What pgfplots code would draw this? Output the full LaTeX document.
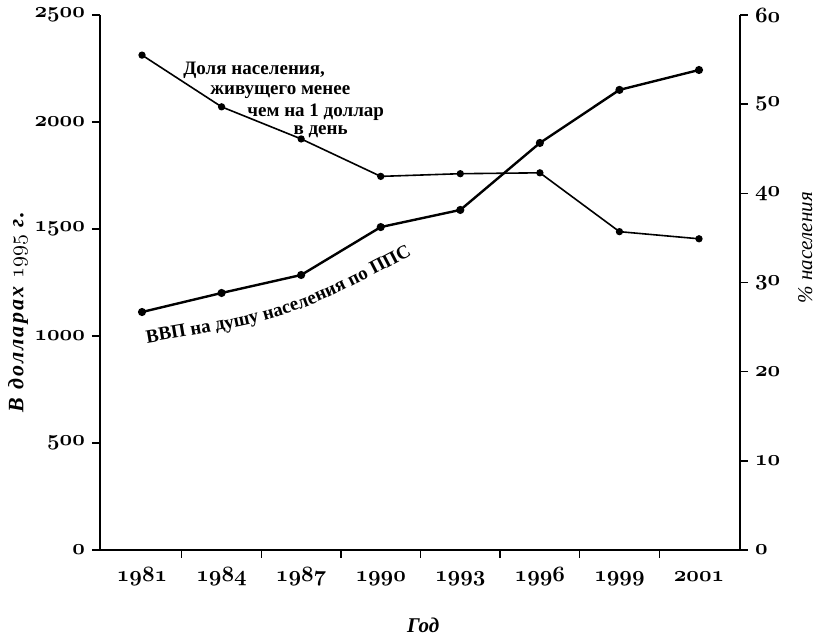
\documentclass[border=0pt]{standalone}
\usepackage{fontspec}
\setmainfont{Liberation Serif}
\usepackage{pgfplots}
\pgfplotsset{compat=1.18}
\usetikzlibrary{decorations.text}
% old-style figures from the math italic font
\newcommand{\osf}[1]{{\boldmath$\mathnormal{#1}$}}

\begin{document}
\begin{tikzpicture}
\useasboundingbox (-50pt,-42.5pt) rectangle (358pt,275pt);
\begin{axis}[
    scale only axis,
    width=320pt, height=267.5pt,
    xmin=-0.528, xmax=7.515,
    ymin=0, ymax=2500,
    axis x line*=bottom, axis y line*=left,
    axis line style={-, line width=0.8pt},
    tick align=outside,
    major tick length=4pt,
    tick style={line width=0.7pt, black},
    xtick={0.5,1.5,...,6.5}, xticklabels={},
    extra x ticks={0,1,2,3,4,5,6,7},
    extra x tick labels={\osf{1981},\osf{1984},\osf{1987},\osf{1990},\osf{1993},\osf{1996},\osf{1999},\osf{2001}},
    extra x tick style={major tick length=0pt},
    xticklabel style={yshift=-5pt, text height=7pt, text depth=2.5pt},
    ytick={0,500,...,2500},
    yticklabels={\osf{0},\osf{500},\osf{1000},\osf{1500},\osf{2000},\osf{2500}},
    tick label style={font=\fontsize{10.5}{12}\selectfont},
    xlabel={\bfseries\itshape Год},
    xlabel style={at={(rel axis cs:0.505,-0.14)}, anchor=center, font=\fontsize{10.5}{12}\selectfont},
    ylabel={\bfseries\itshape\addfontfeature{LetterSpace=10} В долларах $\mathnormal{1995}$ г.},
    ylabel style={at={(rel axis cs:-0.128,0.445)}, anchor=center, font=\fontsize{11}{13}\selectfont},
  ]
  \addplot[black, line width=1.2pt, mark=*, mark size=1.4pt]
  coordinates {
(0,1112)
(1,1201)
(2,1285)
(3,1509)
(4,1589)
(5,1902)
(6,2150)
(7,2243)
  };
  \begin{scope}[font=\fontsize{9.5}{11}\selectfont\bfseries]
  \node[anchor=west, inner sep=0pt] at (axis cs:0.515,2243) {Доля населения,};
  \node[anchor=west, inner sep=0pt] at (axis cs:0.854,2140) {живущего менее};
  \node[anchor=west, inner sep=0pt] at (axis cs:1.32,2045) {чем на 1 доллар};
  \node[anchor=west, inner sep=0pt] at (axis cs:1.90,1955) {в день};
  \end{scope}
  \path[decorate, decoration={text along path,
      text={|\fontsize{9.5}{11}\selectfont\bfseries|ВВП на душу населения по ППС}}]
    (axis cs:0.063,967) .. controls (axis cs:1.9,1084) .. (axis cs:3.75,1450);
\end{axis}
\begin{axis}[
    scale only axis,
    width=320pt, height=267.5pt,
    xmin=-0.528, xmax=7.515,
    ymin=0, ymax=60,
    axis x line=none, axis y line*=right,
    axis line style={-, line width=0.8pt},
    tick align=outside,
    major tick length=4pt,
    tick style={line width=0.7pt, black},
    ytick={0,10,...,60},
    yticklabels={\osf{0},\osf{10},\osf{20},\osf{30},\osf{40},\osf{50},\osf{60}},
    tick label style={font=\fontsize{10.5}{12}\selectfont},
    ylabel={\itshape \% населения},
    ylabel style={at={(rel axis cs:1.102,0.565)}, anchor=center, font=\fontsize{10.5}{12}\selectfont},
  ]
  \addplot[black, line width=0.8pt, mark=*, mark size=1.4pt]
  coordinates {
(0,55.5)
(1,49.7)
(2,46.1)
(3,41.9)
(4,42.2)
(5,42.3)
(6,35.7)
(7,34.9)
  };
\end{axis}
\end{tikzpicture}
\end{document}
